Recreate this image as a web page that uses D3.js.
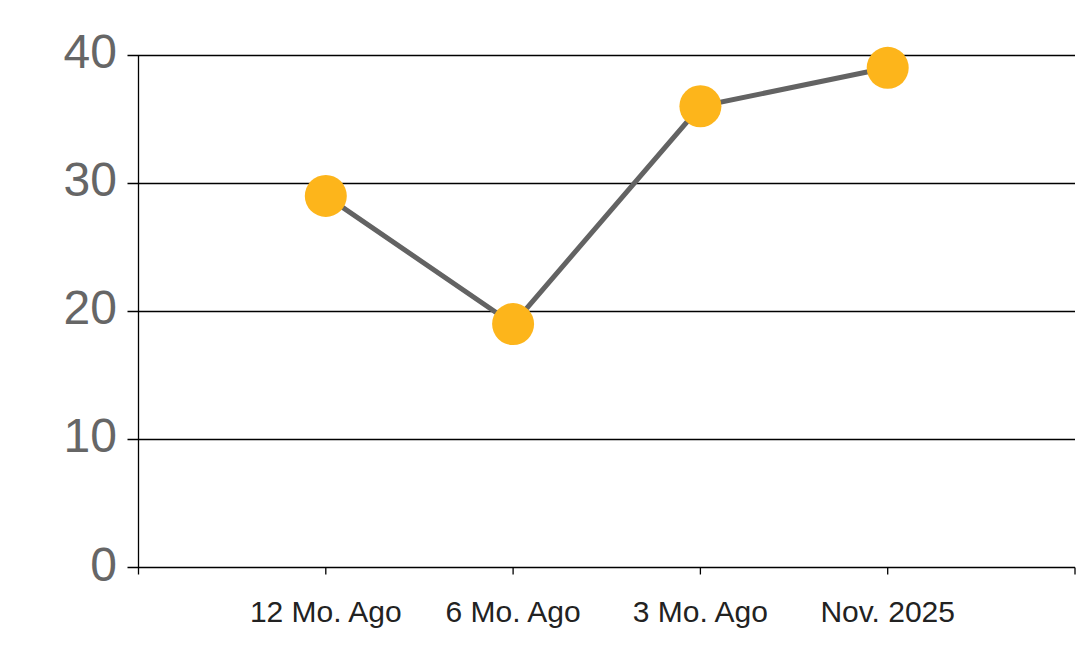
<!DOCTYPE html>
<html><head><meta charset="utf-8">
<script src="https://cdn.jsdelivr.net/npm/d3@7"></script>
<style>body{margin:0;background:#fff}svg{display:block}</style>
</head><body>
<svg id="c" width="1078" height="663"></svg>
<script>
const categories = ["12 Mo. Ago", "6 Mo. Ago", "3 Mo. Ago", "Nov. 2025"];
const values = [29, 19, 36, 39];
const yTicks = [0, 10, 20, 30, 40];

const svg = d3.select("#c");
const mLeft = 138.5, mRight = 1075, mTop = 55, mBottom = 567.5;
const x = d3.scaleLinear().domain([0, categories.length + 1]).range([mLeft, mRight]);
const y = d3.scaleLinear().domain([0, 40]).range([mBottom, mTop]);
const font = "'Liberation Sans', Arial, sans-serif";

// gridlines
svg.append("g").selectAll("line").data(yTicks.filter(d => d > 0)).join("line")
  .attr("x1", mLeft - 11).attr("x2", mRight)
  .attr("y1", d => Math.round(y(d)) + 0.5).attr("y2", d => Math.round(y(d)) + 0.5)
  .attr("stroke", "#000").attr("stroke-width", 1.3);

// axes
svg.append("line").attr("x1", mLeft).attr("x2", mLeft).attr("y1", mTop).attr("y2", mBottom)
  .attr("stroke", "#000").attr("stroke-width", 1.3);
svg.append("line").attr("x1", mLeft - 11).attr("x2", mRight).attr("y1", mBottom).attr("y2", mBottom)
  .attr("stroke", "#000").attr("stroke-width", 1.3);

// x ticks
svg.append("g").selectAll("line").data(d3.range(categories.length + 2)).join("line")
  .attr("x1", d => x(d)).attr("x2", d => x(d)).attr("y1", mBottom).attr("y2", mBottom + 7)
  .attr("stroke", "#000").attr("stroke-width", 1.3);

// y labels
svg.append("g").selectAll("text").data(yTicks).join("text")
  .attr("x", 117).attr("y", d => y(d) + 13)
  .attr("text-anchor", "end").attr("font-family", font).attr("font-size", 48)
  .attr("fill", "#666").text(d => d);

// x labels
svg.append("g").selectAll("text").data(categories).join("text")
  .attr("x", (d, i) => x(i + 1)).attr("y", 622)
  .attr("text-anchor", "middle").attr("font-family", font).attr("font-size", 30)
  .attr("fill", "#222").text(d => d);

// line
const line = d3.line().x((d, i) => x(i + 1)).y(d => y(d));
svg.append("path").datum(values).attr("d", line)
  .attr("fill", "none").attr("stroke", "#636363").attr("stroke-width", 5);

// points
svg.append("g").selectAll("circle").data(values).join("circle")
  .attr("cx", (d, i) => x(i + 1)).attr("cy", d => y(d)).attr("r", 21)
  .attr("fill", "#FDB51B");
</script>
</body></html>
